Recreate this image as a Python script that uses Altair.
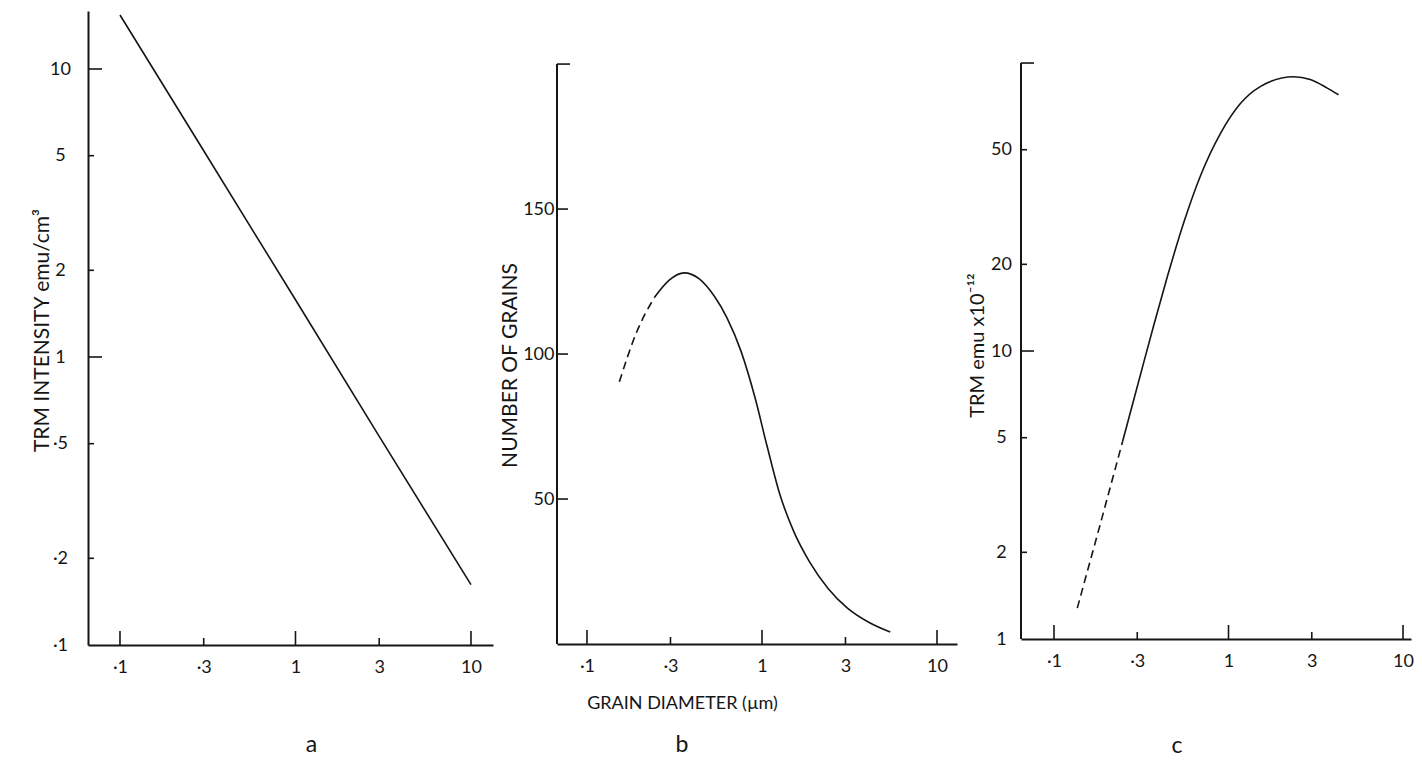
import math
import altair as alt
import pandas as pd

# ---------------- data ----------------
x_tick_values = [0.1, 0.3, 1, 3, 10]
x_tick_labels = ["·1", "·3", "1", "3", "10"]

a_y_tick_values = [0.1, 0.2, 0.5, 1, 2, 5, 10]
a_y_tick_labels = ["·1", "·2", "·5", "1", "2", "5", "10"]
b_y_tick_values = [50, 100, 150]
b_y_tick_labels = ["50", "100", "150"]
b_y_axis_top = 200
c_y_tick_values = [1, 2, 5, 10, 20, 50]
c_y_tick_labels = ["1", "2", "5", "10", "20", "50"]
c_y_axis_top = 100

# panel a: TRM intensity vs grain diameter
a_diam = [0.1, 0.3, 1, 3, 10]
a_trm = [15.4, 5.2, 1.58, 0.53, 0.162]

# panel b: number of grains vs grain diameter
b_diam_dashed = [0.1531, 0.1905, 0.2427]
b_count_dashed = [90.4, 107, 119.5]
b_diam_solid = [0.2427, 0.2951, 0.3597, 0.4365, 0.5333, 0.6310, 0.7586, 0.9120, 1.0715,
                1.2589, 1.5136, 1.8621, 2.3988, 3.0903, 4.0738, 5.4075]
b_count_solid = [119.5, 125.5, 128.0, 126.0, 120.0, 112.5, 101, 85, 68,
                 52, 39, 28.5, 19, 12.3, 7.5, 4.1]

# panel c: TRM (emu x 10^-12) vs grain diameter
c_diam_dashed = [0.136, 0.186, 0.247]
c_trm_dashed = [1.28, 2.56, 4.84]
c_diam_solid = [0.247, 0.314, 0.374, 0.446, 0.556, 0.692, 0.900, 1.17, 1.52, 2.36, 2.94, 3.66, 4.27]
c_trm_solid = [4.84, 8.34, 12.37, 18.1, 28.1, 40.7, 57.0, 72.3, 82.8, 89.6, 87.6, 82.0, 77.6]

# ---------------- style ----------------
FONT = "Lato"
INK = "#151515"
LABEL_SIZE = 18


def is_decade(v):
    lv = math.log10(v)
    return abs(lv - round(lv)) < 1e-9


def label_expr(values, labels):
    vals = ",".join(repr(v) for v in values)
    labs = ",".join("'" + l + "'" for l in labels)
    return f"[{labs}][indexof([{vals}], datum.value)]"


def x_axis(title=None, title_x=None, title_y=None):
    kw = dict(values=x_tick_values, labelExpr=label_expr(x_tick_values, x_tick_labels),
              ticks=False, grid=False, domain=True, domainColor=INK, domainWidth=2,
              labelFontSize=LABEL_SIZE, labelFont=FONT, labelColor=INK, labelPadding=13,
              labelOverlap=False, labelFlush=False, title=title)
    if title is not None:
        kw.update(titleFont=FONT, titleFontSize=18, titleFontWeight="normal", titleColor=INK,
                  titleX=title_x, titleY=title_y, titleAlign="center", titleBaseline="middle")
    return alt.Axis(**kw)


def y_axis(values, labels, title, title_x, title_y, title_size, align, pad, domain):
    return alt.Axis(values=values, labelExpr=label_expr(values, labels), ticks=False, grid=False,
                    domain=domain, domainColor=INK, domainWidth=2,
                    labelFontSize=LABEL_SIZE, labelFont=FONT, labelColor=INK,
                    labelAlign=align, labelBaseline="middle", labelPadding=pad,
                    labelOverlap=False, labelFlush=False,
                    title=title, titleFont=FONT, titleFontSize=title_size, titleFontWeight="normal",
                    titleColor=INK, titleX=title_x, titleY=title_y, titleAngle=270,
                    titleAlign="center", titleBaseline="middle")


def curve(d, v, xs, ys, xa, ya, dashed=False, interp="monotone"):
    df = pd.DataFrame({"d": d, "v": v})
    mk = dict(color=INK, strokeWidth=1.6, interpolate=interp)
    if dashed:
        mk["strokeDash"] = [8, 5]
    return alt.Chart(df).mark_line(**mk).encode(
        x=alt.X("d:Q", scale=xs, axis=xa), y=alt.Y("v:Q", scale=ys, axis=ya))


def x_tick_rules(xs, xa, H):
    out = []
    for vals, L in (([v for v in x_tick_values if is_decade(v)], 14),
                    ([v for v in x_tick_values if not is_decade(v)], 7)):
        df = pd.DataFrame({"t": vals})
        out.append(alt.Chart(df).mark_rule(color=INK, strokeWidth=1.6).encode(
            x=alt.X("t:Q", scale=xs, axis=xa), y=alt.value(H), y2=alt.value(H - L)))
    return out


def y_tick_rules(groups, ys, ya):
    out = []
    for vals, L in groups:
        df = pd.DataFrame({"t": vals})
        out.append(alt.Chart(df).mark_rule(color=INK, strokeWidth=1.6).encode(
            y=alt.Y("t:Q", scale=ys, axis=ya), x=alt.value(0), x2=alt.value(L)))
    return out


def y_axis_line(lo, hi, ys, ya):
    df = pd.DataFrame({"lo": [lo], "hi": [hi]})
    return alt.Chart(df).mark_rule(color=INK, strokeWidth=2).encode(
        x=alt.value(0), y=alt.Y("lo:Q", scale=ys, axis=ya), y2=alt.Y2("hi:Q"))


def letter(txt, dx, offset):
    return alt.TitleParams(txt, orient="bottom", anchor="middle", frame="group", dx=dx,
                           offset=offset, fontSize=23, font=FONT, fontWeight="normal",
                           color=INK, baseline="alphabetic")


# ---------------- panel a ----------------
WA, HA = 405, 634
xs_a = alt.Scale(type="log", domain=[0.06573, 13.35], nice=False)
ys_a = alt.Scale(type="log", domain=[0.1, 15.9], nice=False)
xa_a = x_axis()
ya_a = y_axis(a_y_tick_values, a_y_tick_labels, "TRM  INTENSITY   emu/cm³", -46, 319, 21,
              "center", 28, True)
a_vals = [v for v in a_y_tick_values if v > a_y_tick_values[0]]
pa = alt.layer(
    curve(a_diam, a_trm, xs_a, ys_a, xa_a, ya_a, interp="linear"),
    *x_tick_rules(xs_a, xa_a, HA),
    *y_tick_rules([([v for v in a_vals if is_decade(v)], 14),
                   ([v for v in a_vals if not is_decade(v)], 6)], ys_a, ya_a),
).properties(width=WA, height=HA, title=letter("a", 21, 76))

# ---------------- panel b ----------------
WB, HB = 400, 633
xs_b = alt.Scale(type="log", domain=[0.06741, 13.01], nice=False)
ys_b = alt.Scale(type="linear", domain=[0, 218.3], nice=False, zero=False)
xa_b = x_axis("GRAIN DIAMETER (µm)", 125, 59)
ya_b = y_axis(b_y_tick_values, b_y_tick_labels, "NUMBER OF GRAINS", -47, 354, 21,
              "right", 3, False)
pb = alt.layer(
    y_axis_line(0, b_y_axis_top, ys_b, ya_b),
    curve(b_diam_dashed, b_count_dashed, xs_b, ys_b, xa_b, ya_b, dashed=True),
    curve(b_diam_solid, b_count_solid, xs_b, ys_b, xa_b, ya_b),
    *x_tick_rules(xs_b, xa_b, HB),
    *y_tick_rules([(b_y_tick_values, 11), ([b_y_axis_top], 13)], ys_b, ya_b),
).properties(width=WB, height=HB, title=letter("b", -75, 40))

# ---------------- panel c ----------------
WC, HC = 390, 628
xs_c = alt.Scale(type="log", domain=[0.06471, 11.11], nice=False)
ys_c = alt.Scale(type="log", domain=[1, 151.6], nice=False)
xa_c = x_axis()
ya_c = y_axis(c_y_tick_values, c_y_tick_labels, "TRM   emu x10⁻¹²", -44, 334, 20,
              "center", 20, False)
c_vals = [v for v in c_y_tick_values if v > c_y_tick_values[0]] + [c_y_axis_top]
pc = alt.layer(
    y_axis_line(1, c_y_axis_top, ys_c, ya_c),
    curve(c_diam_dashed, c_trm_dashed, xs_c, ys_c, xa_c, ya_c, dashed=True, interp="linear"),
    curve(c_diam_solid, c_trm_solid, xs_c, ys_c, xa_c, ya_c),
    *x_tick_rules(xs_c, xa_c, HC),
    *y_tick_rules([([v for v in c_vals if is_decade(v)], 13),
                   ([v for v in c_vals if not is_decade(v)], 6)], ys_c, ya_c),
).properties(width=WC, height=HC, title=letter("c", -39, 83))

chart = (
    alt.hconcat(pa, pb, pc, spacing=64, bounds="flush")
    .properties(padding={"left": 23, "top": 3, "right": 0, "bottom": 0})
    .configure(font=FONT)
    .configure_view(strokeWidth=0)
)

chart.save("out.html", embed_options={"renderer": "svg", "actions": False})
